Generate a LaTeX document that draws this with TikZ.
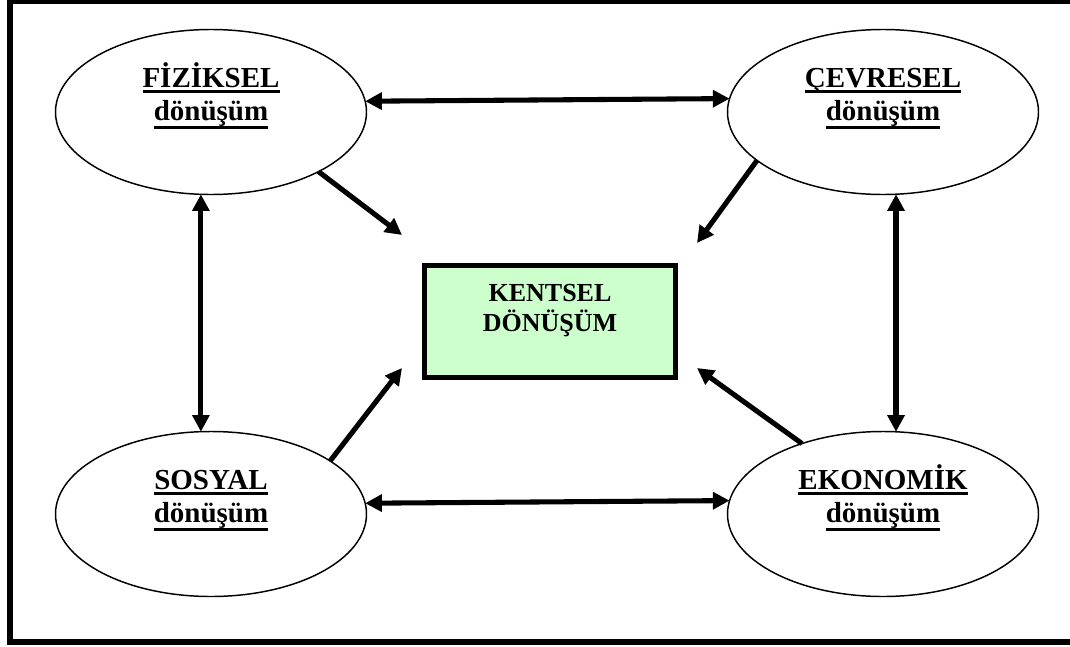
\documentclass[tikz,border=0pt]{standalone}
\usepackage{fontspec}
\setmainfont{Liberation Serif}
\usetikzlibrary{arrows.meta,calc,shapes.geometric}
\definecolor{boxgreen}{HTML}{CCFFCC}
\newcommand\ulin[2]{\setbox0\hbox{#2}\rlap{\copy0}\rule[-#1]{\wd0}{2.3pt}}
\begin{document}
\begin{tikzpicture}[x=0.75pt,y=-0.75pt,
 oval/.style={ellipse, draw, line width=1.1pt, minimum width=233.25pt, minimum height=123.75pt, inner sep=0pt, outer sep=0pt},
 lbl/.style={anchor=base, inner sep=0pt, font=\fontsize{21.75}{26}\selectfont\bfseries},
 ctr/.style={anchor=base, inner sep=0pt, font=\fontsize{19.5}{23}\selectfont\bfseries},
 core/.style={rectangle, draw, fill=boxgreen, line width=3.75pt, minimum width=188.25pt, minimum height=84pt, inner sep=0pt, outer sep=0pt},
 link/.style={line width=3.8pt, -{Triangle[length=12.5pt,width=12.5pt]}},
 dlink/.style={line width=3.8pt, {Triangle[length=12.5pt,width=12.5pt]}-{Triangle[length=12.5pt,width=12.5pt]}}]
\useasboundingbox (0,0) rectangle (1070,646);
\draw[line width=4.5pt] (10,0.5) rectangle (1085,641.5);

\node[oval] (fiz) at (211,112) {};
\node[oval] (cev) at (883,112) {};
\node[oval] (sos) at (211,514) {};
\node[oval] (eko) at (883,514) {};
\node[core] (box) at (550,321.5) {};

\node[lbl] (fizT) at (211,87) {\ulin{4.6pt}{FİZİKSEL}};
\node[lbl] (fizS) at (211,120) {\ulin{7pt}{dönüşüm}};
\node[lbl] (cevT) at (883,87) {\ulin{4.6pt}{ÇEVRESEL}};
\node[lbl] (cevS) at (883,120) {\ulin{7pt}{dönüşüm}};
\node[lbl] (sosT) at (211,489) {\ulin{4.6pt}{SOSYAL}};
\node[lbl] (sosS) at (211,522) {\ulin{7pt}{dönüşüm}};
\node[lbl] (ekoT) at (883,489) {\ulin{4.6pt}{EKONOMİK}};
\node[lbl] (ekoS) at (883,522) {\ulin{7pt}{dönüşüm}};

\node[ctr] (boxA) at (550,301) {KENTSEL};
\node[ctr] (boxB) at (550,331) {DÖNÜŞÜM};

\draw[dlink] (fiz.4.4) -- (cev.175.6);
\draw[dlink] (sos.4.4) -- (eko.175.6);
\draw[dlink] (fiz.-97.6) -- (sos.97.6);
\draw[dlink] (cev.-81.75) -- (eko.81.75);

\draw[link] (fiz.-29.2) -- ($(box.north west)+(-22.5,-30.5)$);
\draw[link] (cev.201.8) -- ($(box.north east)+(21.5,-22.5)$);
\draw[link] (sos.24.05) -- ($(box.south west)+(-22.5,-9.5)$);
\draw[link] (eko.139.5) -- ($(box.south east)+(21.5,-9.5)$);
\end{tikzpicture}
\end{document}
